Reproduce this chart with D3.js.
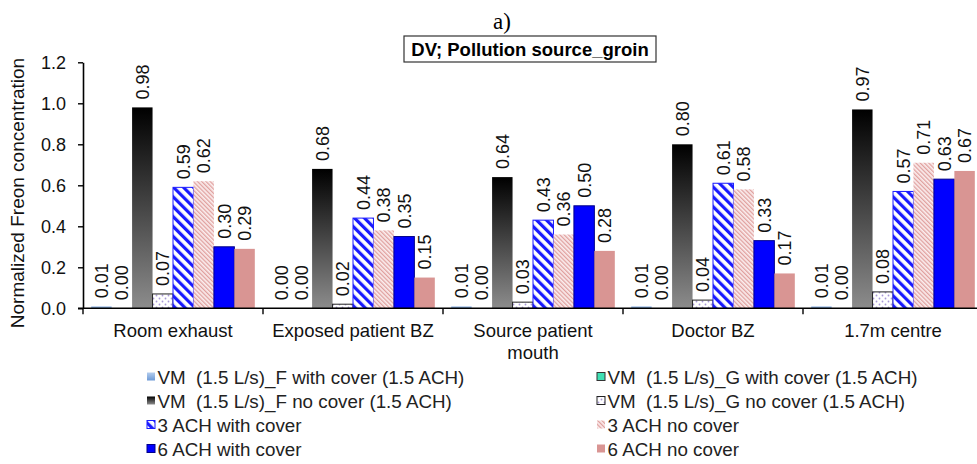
<!DOCTYPE html>
<html><head><meta charset="utf-8">
<script src="https://cdn.jsdelivr.net/npm/d3@7/dist/d3.min.js"></script>
<style>
html,body{margin:0;padding:0;background:#fff;}
svg{display:block;font-family:"Liberation Sans",Arial,sans-serif;}
</style></head>
<body>
<svg id="chart" width="977" height="464"></svg>
<script>
const categories = ["Room exhaust", "Exposed patient BZ", "Source patient mouth", "Doctor BZ", "1.7m centre"];
const seriesNames = [
  "VM  (1.5 L/s)_F with cover (1.5 ACH)",
  "VM  (1.5 L/s)_G with cover (1.5 ACH)",
  "VM  (1.5 L/s)_F no cover (1.5 ACH)",
  "VM  (1.5 L/s)_G no cover (1.5 ACH)",
  "3 ACH with cover",
  "3 ACH no cover",
  "6 ACH with cover",
  "6 ACH no cover"
];
const fWithCover   = [0.01, 0.00, 0.01, 0.01, 0.01];
const gWithCover   = [0.00, 0.00, 0.00, 0.00, 0.00];
const fNoCover     = [0.98, 0.68, 0.64, 0.80, 0.97];
const gNoCover     = [0.07, 0.02, 0.03, 0.04, 0.08];
const ach3Cover    = [0.59, 0.44, 0.43, 0.61, 0.57];
const ach3NoCover  = [0.62, 0.38, 0.36, 0.58, 0.71];
const ach6Cover    = [0.30, 0.35, 0.50, 0.33, 0.63];
const ach6NoCover  = [0.29, 0.15, 0.28, 0.17, 0.67];
const yTicks = [0, 0.2, 0.4, 0.6, 0.8, 1.0, 1.2];

const seriesValues = [fWithCover, gWithCover, fNoCover, gNoCover, ach3Cover, ach3NoCover, ach6Cover, ach6NoCover];

const svg = d3.select("#chart");
const defs = svg.append("defs");

const gBlue = defs.append("linearGradient").attr("id","gradBlue").attr("x1",0).attr("y1",0).attr("x2",0).attr("y2",1);
gBlue.append("stop").attr("offset","0%").attr("stop-color","#b4cdee");
gBlue.append("stop").attr("offset","100%").attr("stop-color","#6d9ad6");
const gDark = defs.append("linearGradient").attr("id","gradDark").attr("x1",0).attr("y1",0).attr("x2",0).attr("y2",1);
gDark.append("stop").attr("offset","0%").attr("stop-color","#000000");
gDark.append("stop").attr("offset","100%").attr("stop-color","#8c8c8c");

const pDots = defs.append("pattern").attr("id","patDots").attr("patternUnits","userSpaceOnUse").attr("width",6).attr("height",6);
pDots.append("rect").attr("width",6).attr("height",6).attr("fill","#fff");
pDots.append("circle").attr("cx",1.5).attr("cy",1.5).attr("r",0.9).attr("fill","#a898d8");
pDots.append("circle").attr("cx",4.5).attr("cy",4.5).attr("r",0.9).attr("fill","#a898d8");

const pBlue = defs.append("pattern").attr("id","patBlue").attr("patternUnits","userSpaceOnUse").attr("width",7).attr("height",7).attr("patternTransform","rotate(-45)");
pBlue.append("rect").attr("width",7).attr("height",7).attr("fill","#fff");
pBlue.append("rect").attr("x",0).attr("width",3.2).attr("height",7).attr("fill","#1a1aff");

const pPink = defs.append("pattern").attr("id","patPink").attr("patternUnits","userSpaceOnUse").attr("width",3).attr("height",3).attr("patternTransform","rotate(-45)");
pPink.append("rect").attr("width",3).attr("height",3).attr("fill","#fbeeee");
pPink.append("rect").attr("x",0).attr("width",1.3).attr("height",3).attr("fill","#e0a09e");

const styles = [
  {fill:"url(#gradBlue)", stroke:"none"},
  {fill:"#3fe0b4", stroke:"#333"},
  {fill:"url(#gradDark)", stroke:"none"},
  {fill:"url(#patDots)", stroke:"#222"},
  {fill:"url(#patBlue)", stroke:"#1a1aff"},
  {fill:"url(#patPink)", stroke:"none"},
  {fill:"#0000ff", stroke:"#00008a"},
  {fill:"#d99593", stroke:"none"}
];

const x0 = d3.scaleBand().domain(categories).range([83, 983]).paddingInner(0).paddingOuter(0);
const x1 = d3.scaleBand().domain(d3.range(8)).range([0, x0.bandwidth()]).paddingInner(0).paddingOuter(0.4);
const y = d3.scaleLinear().domain([0, 1.2]).range([308.3, 62.3]);

const groups = svg.append("g").selectAll("g").data(categories).join("g")
  .attr("transform", c => `translate(${x0(c)},0)`);
groups.each(function(c, ci){
  const g = d3.select(this);
  seriesValues.forEach((vals, si) => {
    const v = vals[ci];
    const st = styles[si];
    const h = y(0) - y(v);
    if (h > 0) {
      g.append("rect")
        .attr("x", x1(si)).attr("y", y(v))
        .attr("width", x1.bandwidth()).attr("height", h)
        .attr("fill", st.fill)
        .attr("stroke", st.stroke).attr("stroke-width", st.stroke === "none" ? 0 : 1);
    }
    const lx = x1(si) + x1.bandwidth()/2, ly = y(v) - 8;
    g.append("text")
      .attr("transform", `translate(${lx},${ly}) rotate(-90)`)
      .attr("dy","0.36em")
      .attr("font-size", 18)
      .attr("fill","#111")
      .text(d3.format(".2f")(v));
  });
});

const yAxis = svg.append("g").attr("transform","translate(83,0)")
  .call(d3.axisLeft(y).tickValues(yTicks).tickFormat(d3.format(".1f")).tickSize(5).tickPadding(12).tickSizeOuter(0));
yAxis.select(".domain").attr("stroke","#000").attr("stroke-width",1.6);
yAxis.selectAll(".tick line").attr("stroke","#000").attr("stroke-width",1.4);
yAxis.selectAll(".tick text").attr("font-size",18).attr("fill","#111").attr("font-family","Liberation Sans, Arial, sans-serif");

const xAxis = svg.append("g").attr("transform",`translate(0,${y(0)})`)
  .call(d3.axisBottom(x0).tickSize(0).tickPadding(16));
xAxis.select(".domain").attr("d", `M78,0H${x0.range()[1]}`).attr("stroke","#000").attr("stroke-width",1.6);
xAxis.selectAll(".tick text").attr("font-size",18.5).attr("fill","#111").attr("font-family","Liberation Sans, Arial, sans-serif")
  .each(function(d){
    const t = d3.select(this);
    if (d === "Source patient mouth") {
      t.text(null);
      t.append("tspan").attr("x",0).attr("dy","0.71em").text("Source patient");
      t.append("tspan").attr("x",0).attr("dy","1.15em").text("mouth");
    }
  });
const boundaries = categories.map(c => x0(c)).concat([x0.range()[1]]);
xAxis.selectAll(".bound").data(boundaries).join("line").attr("class","bound")
  .attr("x1", d => d).attr("x2", d => d).attr("y1", 0).attr("y2", 6)
  .attr("stroke","#000").attr("stroke-width",1.4);

svg.append("text")
  .attr("transform","translate(17,193) rotate(-90)")
  .attr("text-anchor","middle").attr("dy","0.35em")
  .attr("font-size",19).attr("fill","#111")
  .text("Normalized Freon concentration");

svg.append("text").attr("x",502).attr("y",29).attr("text-anchor","middle")
  .attr("font-family","Liberation Serif, Times New Roman, serif").attr("font-size",23).attr("fill","#000")
  .text("a)");

svg.append("rect").attr("x",404).attr("y",36).attr("width",252).attr("height",26)
  .attr("fill","#fff").attr("stroke","#333").attr("stroke-width",1.2);
svg.append("text").attr("x",530).attr("y",56).attr("text-anchor","middle")
  .attr("font-weight","bold").attr("font-size",18.5).attr("fill","#000")
  .text("DV; Pollution source_groin");

const legendRows = [377, 401, 425, 449];
const legendCols = [147, 597];
seriesNames.forEach((name, i) => {
  const col = i % 2, row = Math.floor(i / 2);
  const lg = svg.append("g").attr("transform", `translate(${legendCols[col]},${legendRows[row]})`);
  const st = styles[i];
  lg.append("rect").attr("x",0).attr("y",-4.5).attr("width",8).attr("height",8)
    .attr("fill", st.fill).attr("stroke", st.stroke).attr("stroke-width", st.stroke === "none" ? 0 : 1);
  lg.append("text").attr("x",10.5).attr("dy","0.35em").attr("font-size",18.8).attr("fill","#222")
    .style("white-space","pre")
    .text(name);
});
</script>
</body></html>
